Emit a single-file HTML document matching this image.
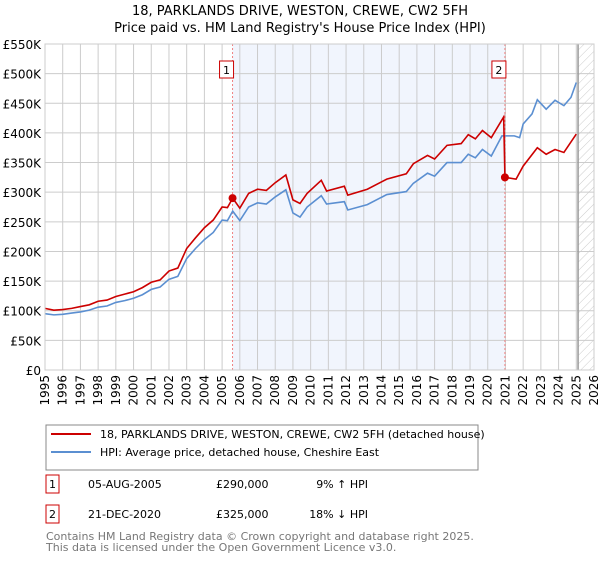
<!DOCTYPE html>
<html><head><meta charset="utf-8">
<style>
body{margin:0;background:#fff;font-family:"Liberation Sans","DejaVu Sans",sans-serif;}
svg text{font-family:"DejaVu Sans","Liberation Sans",sans-serif;}
</style></head>
<body>
<svg id="c" width="600" height="560" xmlns="http://www.w3.org/2000/svg">
<defs>
<pattern id="hatch" width="6" height="6" patternUnits="userSpaceOnUse" patternTransform="rotate(45)">
<line x1="0" y1="0" x2="0" y2="6" stroke="#ccc" stroke-width="1"/>
</pattern>
</defs>
<text x="300" y="15" text-anchor="middle" font-size="13" fill="#000">18, PARKLANDS DRIVE, WESTON, CREWE, CW2 5FH</text>
<text x="300" y="32" text-anchor="middle" font-size="13" fill="#000">Price paid vs. HM Land Registry's House Price Index (HPI)</text>
<g id="plot"></g>
<g>
<rect x="46" y="425" width="432" height="45" fill="#fff" stroke="#888" stroke-width="1"/>
<line x1="51" y1="434" x2="91" y2="434" stroke="#cc0000" stroke-width="2"/>
<text x="100" y="438" font-size="11">18, PARKLANDS DRIVE, WESTON, CREWE, CW2 5FH (detached house)</text>
<line x1="51" y1="452" x2="91" y2="452" stroke="#5b8fd1" stroke-width="2"/>
<text x="100" y="456" font-size="11">HPI: Average price, detached house, Cheshire East</text>
</g>
<g>
<rect x="46" y="475" width="13" height="18" fill="#fff" stroke="#cc0000"/>
<text x="52.5" y="488" font-size="11" text-anchor="middle">1</text>
<text x="88" y="488" font-size="11">05-AUG-2005</text>
<text x="216" y="488" font-size="11">£290,000</text>
<text x="368" y="488" font-size="11" text-anchor="end">9% ↑ HPI</text>
<rect x="46" y="505" width="13" height="18" fill="#fff" stroke="#cc0000"/>
<text x="52.5" y="518" font-size="11" text-anchor="middle">2</text>
<text x="88" y="518" font-size="11">21-DEC-2020</text>
<text x="216" y="518" font-size="11">£325,000</text>
<text x="368" y="518" font-size="11" text-anchor="end">18% ↓ HPI</text>
</g>
<text x="46" y="540" font-size="11" fill="#777">Contains HM Land Registry data © Crown copyright and database right 2025.</text>
<text x="46" y="551" font-size="11" fill="#777">This data is licensed under the Open Government Licence v3.0.</text>
</svg>
<script>
const hpiYears=[1995,1995.5,1996,1996.5,1997,1997.5,1998,1998.5,1999,1999.5,2000,2000.5,2001,2001.5,2002,2002.5,2003,2003.5,2004,2004.5,2005,2005.3,2005.6,2006,2006.5,2007,2007.5,2008,2008.6,2009,2009.4,2009.8,2010.6,2010.9,2011.9,2012.1,2013.2,2014.3,2015.4,2015.8,2016.6,2017,2017.7,2018.5,2018.9,2019.3,2019.7,2020.2,2020.8,2021.5,2021.8,2022,2022.5,2022.8,2023.3,2023.8,2024.3,2024.7,2025.0];
const hpiValues=[95,93,94,96,98,101,106,108,114,117,121,127,136,140,153,158,188,205,220,232,253,252,268,252,275,282,280,292,304,265,258,275,294,280,284,270,279,296,301,315,332,327,350,350,364,358,372,361,395,395,392,415,432,456,440,455,446,460,485];
const priceYears=[1995,1995.5,1996,1996.5,1997,1997.5,1998,1998.5,1999,1999.5,2000,2000.5,2001,2001.5,2002,2002.5,2003,2003.5,2004,2004.5,2005,2005.3,2005.6,2006,2006.5,2007,2007.5,2008,2008.6,2009,2009.4,2009.8,2010.6,2010.9,2011.9,2012.1,2013.2,2014.3,2015.4,2015.8,2016.6,2017,2017.7,2018.5,2018.9,2019.3,2019.7,2020.2,2020.9,2020.97,2021.6,2022,2022.8,2023.3,2023.8,2024.3,2025.0];
const priceValues=[104,101,102,104,107,110,116,118,124,128,132,139,148,152,167,172,205,223,240,253,275,274,290,273,298,305,303,316,329,287,281,298,320,302,310,295,305,322,331,348,362,356,379,382,397,390,404,392,427,325,322,344,375,364,372,367,398];
const saleYears=[2005.59,2020.97];
const saleValues=[290,325];
const saleLabels=["1","2"];
const yTicks=[0,50,100,150,200,250,300,350,400,450,500,550];
const yTickLabels=["£0","£50K","£100K","£150K","£200K","£250K","£300K","£350K","£400K","£450K","£500K","£550K"];
const xTicks=[1995,1996,1997,1998,1999,2000,2001,2002,2003,2004,2005,2006,2007,2008,2009,2010,2011,2012,2013,2014,2015,2016,2017,2018,2019,2020,2021,2022,2023,2024,2025,2026];

const X0=45,X1=594,Y0=370,Y1=44;
const xs=y=>X0+(y-1995)/(2026-1995)*(X1-X0);
const ys=v=>Y0-v/550*(Y0-Y1);
const NS="http://www.w3.org/2000/svg";
const g=document.getElementById('plot');
function mk(t,a){const e=document.createElementNS(NS,t);for(const k in a)e.setAttribute(k,a[k]);g.appendChild(e);return e;}

let e=mk('rect',{x:xs(saleYears[0]),y:Y1,width:xs(saleYears[1])-xs(saleYears[0]),height:Y0-Y1,fill:'#eef3fc',opacity:0.8});


e=mk('rect',{x:xs(2025.1),y:Y1,width:X1-xs(2025.1),height:Y0-Y1,fill:'url(#hatch)'});


yTicks.forEach((v,i)=>{
  let l=mk('line',{x1:X0,x2:X1,y1:ys(v),y2:ys(v),stroke:'#ccc','stroke-width':1});
  
  
  let t=mk('text',{x:X0-4,y:ys(v)+5,'text-anchor':'end','font-size':12,fill:'#000'});
  t.textContent=yTickLabels[i];
  
  
});
xTicks.forEach(yr=>{
  let l=mk('line',{x1:xs(yr),x2:xs(yr),y1:Y1,y2:Y0,stroke:'#ccc','stroke-width':1});
  
  
  let t=mk('text',{x:0,y:0,'text-anchor':'end','font-size':12,fill:'#000',transform:`translate(${xs(yr)+4},375) rotate(-90)`});
  t.textContent=yr;
  
  
});
e=mk('line',{x1:xs(2025.1),x2:xs(2025.1),y1:Y1,y2:Y0,stroke:'#999','stroke-width':1.5});


saleYears.forEach((yr,i)=>{
  let l=mk('line',{x1:xs(yr),x2:xs(yr),y1:Y1,y2:Y0,stroke:'#f08080','stroke-width':1,'stroke-dasharray':'2,2'});
  
  
});
let p=mk('polyline',{points:hpiYears.map((y,i)=>xs(y)+','+ys(hpiValues[i])).join(' '),fill:'none',stroke:'#5b8fd1','stroke-width':1.6});


p=mk('polyline',{points:priceYears.map((y,i)=>xs(y)+','+ys(priceValues[i])).join(' '),fill:'none',stroke:'#cc0000','stroke-width':1.6});


saleYears.forEach((yr,i)=>{
  let c=mk('circle',{cx:xs(yr),cy:ys(saleValues[i]),r:4,fill:'#cc0000'});
  
  
  let r=mk('rect',{x:xs(yr)-13,y:61,width:14,height:17,fill:'#fff',stroke:'#cc0000'});
  
  
  let t=mk('text',{x:xs(yr)-6,y:74,'text-anchor':'middle','font-size':11});
  t.textContent=saleLabels[i];
  
  
});
e=mk('rect',{x:X0,y:Y1,width:X1-X0,height:Y0-Y1,fill:'none',stroke:'#ccc'});


</script>
</body></html>
